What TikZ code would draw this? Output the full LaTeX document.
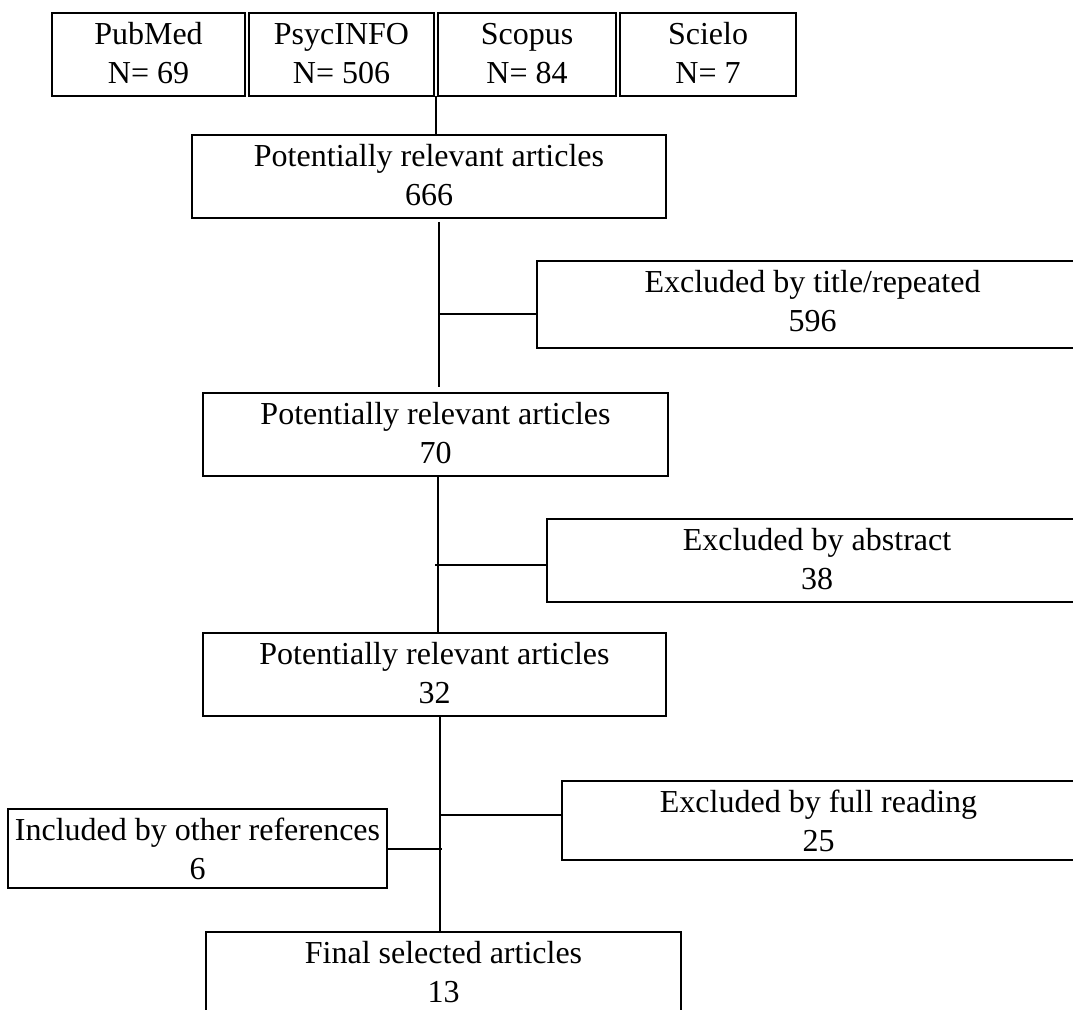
\documentclass[tikz,border=0pt]{standalone}
\usepackage{fontspec}
\setmainfont{Liberation Serif}
\usetikzlibrary{calc}

\tikzset{
  box/.style={draw, rectangle, line width=1.3pt, inner sep=0pt, outer sep=0pt},
  lbl/.style={anchor=base, inner sep=0pt, font=\fontsize{24}{29}\selectfont},
  link/.style={line width=1.3pt}
}

% #1 name, #2 left, #3 top, #4 right, #5 bottom, #6 first line, #7 second line
\newcommand\flowbox[7]{%
  \node[box, minimum width={(#4-#2)*0.75pt}, minimum height={(#5-#3)*0.75pt}]
    (#1) at ({(#2+#4)/2},{(#3+#5)/2}) {};
  \node[lbl] (#1-a) at ([yshift=-23.6pt]#1.north) {#6};
  \node[lbl] (#1-b) at ([yshift=-52.9pt]#1.north) {#7};
}

\begin{document}
\begin{tikzpicture}[x=0.75pt, y=-0.75pt]
  \useasboundingbox (0,0) rectangle (1073,1009);
  \clip (0,0) rectangle (1073,1009);

  % databases
  \flowbox{pubmed}{52}{13}{245}{96}{PubMed}{N= 69}
  \flowbox{psyc}{249}{13}{434}{96}{PsycINFO}{N= 506}
  \flowbox{scopus}{438}{13}{616}{96}{Scopus}{N= 84}
  \flowbox{scielo}{620}{13}{796}{96}{Scielo}{N= 7}

  % screening stages
  \flowbox{p666}{192}{135}{666}{218}{Potentially relevant articles}{666}
  \flowbox{title}{537}{261}{1088}{348}{Excluded by title/repeated}{596}
  \flowbox{p70}{203}{393}{668}{476}{Potentially relevant articles}{70}
  \flowbox{abstract}{547}{519}{1087}{602}{Excluded by abstract}{38}
  \flowbox{p32}{203}{633}{666}{716}{Potentially relevant articles}{32}
  \flowbox{full}{562}{781}{1075}{860}{Excluded by full reading}{25}
  \flowbox{included}{8}{809}{387}{888}{Included by other references}{6}
  \flowbox{final}{206}{932}{681}{1040}{Final selected articles}{13}

  % junction points
  \coordinate (src) at (436,96);
  \coordinate (k1) at (439,314);
  \coordinate (k2) at (438,565);
  \coordinate (k3) at (440,815);
  \coordinate (k4) at (440,849);

  % connectors
  \draw[link] (src) -- (src |- p666.north);
  \draw[link, shorten <=3pt, shorten >=4.5pt] (p666.south -| k1) -- (p70.north -| k1);
  \draw[link] (k1) -- (k1 -| title.west);
  \draw[link] (p70.south -| k2) -- (p32.north -| k2);
  \draw[link] ([xshift=-2.25pt]k2) -- (k2 -| abstract.west);
  \draw[link] (p32.south -| k3) -- (final.north -| k3);
  \draw[link] (k3) -- (k3 -| full.west);
  \draw[link] (included.east |- k4) -- ([xshift=1.5pt]k4);
\end{tikzpicture}
\end{document}
